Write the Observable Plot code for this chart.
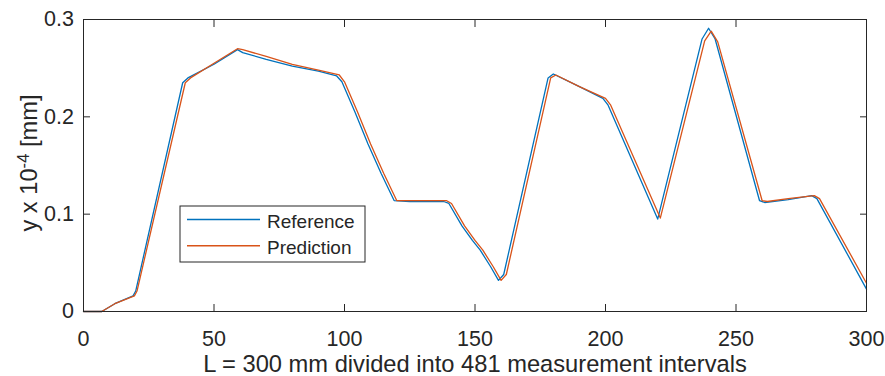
<!DOCTYPE html>
<html>
<head>
<meta charset="utf-8">
<script src="https://cdn.jsdelivr.net/npm/d3@7"></script>
<script src="https://cdn.jsdelivr.net/npm/@observablehq/plot@0.6"></script>
<style>
  html, body { margin: 0; padding: 0; background: #fff; }
  #chart { width: 885px; height: 376px; }
</style>
</head>
<body>
<div id="chart"></div>
<script>
// ---- data ----
const seriesNames = ["Reference", "Prediction"];
const seriesColors = ["#0072BD", "#D95319"];

const refX = [0, 7, 12, 19, 20, 38, 40, 50, 59, 61, 70, 80, 90, 97, 99, 104, 109, 114, 119, 125, 130, 138, 140, 145, 149, 152, 156, 159, 161, 178, 180, 190, 199, 201, 220, 237, 239.5, 242, 259, 261, 270, 279, 281, 300];
const refY = [0, 0, 0.008, 0.016, 0.021, 0.235, 0.240, 0.254, 0.269, 0.266, 0.259, 0.252, 0.247, 0.242, 0.236, 0.205, 0.172, 0.142, 0.114, 0.113, 0.113, 0.113, 0.111, 0.088, 0.073, 0.063, 0.046, 0.032, 0.038, 0.240, 0.244, 0.231, 0.219, 0.212, 0.095, 0.280, 0.291, 0.280, 0.114, 0.112, 0.115, 0.119, 0.116, 0.023];

const predX = [0, 7, 12, 19.5, 20.5, 39, 41, 50, 59, 61, 70, 80, 90, 98, 100, 105, 110, 115, 120, 125, 130, 139, 141, 146, 150, 153, 157, 160, 162, 179, 181, 190, 200, 202, 221, 238, 240.5, 243, 260, 262, 270, 280, 282, 300];
const predY = [0, 0, 0.008, 0.016, 0.021, 0.235, 0.240, 0.255, 0.270, 0.269, 0.262, 0.254, 0.248, 0.243, 0.236, 0.205, 0.172, 0.142, 0.114, 0.114, 0.114, 0.114, 0.111, 0.088, 0.073, 0.063, 0.046, 0.032, 0.038, 0.240, 0.243, 0.231, 0.219, 0.212, 0.096, 0.278, 0.288, 0.277, 0.114, 0.113, 0.116, 0.119, 0.116, 0.029];

const xTicks = [0, 50, 100, 150, 200, 250, 300];
const yTicks = [0, 0.1, 0.2, 0.3];
const yTickLabels = ["0", "0.1", "0.2", "0.3"];
const xLabel = "L = 300 mm divided into 481 measurement intervals";

// ---- build tables ----
const refData = refX.map((x, i) => ({x, y: refY[i]}));
const predData = predX.map((x, i) => ({x, y: predY[i]}));

const axisColor = "#262626";
const font = "'Liberation Sans', Arial, Helvetica, sans-serif";

const plot = Plot.plot({
  width: 885,
  height: 376,
  marginLeft: 83,
  marginRight: 19,
  marginTop: 19,
  marginBottom: 65,
  style: {fontFamily: font, fontSize: "21.5px", color: axisColor, background: "#fff", overflow: "visible"},
  x: {domain: [0, 300]},
  y: {domain: [0, 0.3]},
  marks: [
    Plot.line(refData, {x: "x", y: "y", stroke: seriesColors[0], strokeWidth: 1.3}),
    Plot.line(predData, {x: "x", y: "y", stroke: seriesColors[1], strokeWidth: 1.3}),
    Plot.frame({stroke: axisColor, strokeWidth: 1}),
    Plot.axisX(xTicks, {anchor: "bottom", tickSize: -7, tickPadding: 26, label: null, stroke: axisColor, fill: axisColor}),
    Plot.axisX(xTicks, {anchor: "top", tickSize: -7, tickFormat: () => "", label: null, stroke: axisColor}),
    Plot.axisY(yTicks, {anchor: "left", tickSize: -7, tickPadding: 16.5, label: null, tickFormat: (d, i) => yTickLabels[i], stroke: axisColor, fill: axisColor}),
    Plot.axisY(yTicks, {anchor: "right", tickSize: -7, tickFormat: () => "", label: null, stroke: axisColor}),
    Plot.text([xLabel], {frameAnchor: "bottom", lineAnchor: "bottom", dy: 60, fontSize: 23.7, fill: axisColor})
  ]
});

document.getElementById("chart").appendChild(plot);

// ---- y label with superscript ----
const svg = d3.select(plot);
const yl = svg.append("text")
  .attr("transform", "translate(37,163) rotate(-90)")
  .attr("text-anchor", "middle")
  .attr("fill", axisColor)
  .attr("font-family", font)
  .attr("font-size", 23.7);
yl.append("tspan").text("y x 10");
yl.append("tspan").attr("dy", "-0.5em").attr("font-size", "0.7em").text("-4");
yl.append("tspan").attr("dy", "0.35em").text(" [mm]");

// ---- legend ----
const lg = svg.append("g").attr("transform", "translate(180,206)");
lg.append("rect").attr("width", 185).attr("height", 56)
  .attr("fill", "#fff").attr("stroke", axisColor).attr("stroke-width", 1);
seriesNames.forEach((name, i) => {
  const cy = 13.5 + i * 26.3;
  lg.append("line").attr("x1", 7).attr("x2", 80).attr("y1", cy).attr("y2", cy)
    .attr("stroke", seriesColors[i]).attr("stroke-width", 1.5);
  lg.append("text").attr("x", 87).attr("y", cy + 8.3)
    .attr("text-anchor", "start")
    .attr("font-family", font).attr("font-size", 19).attr("fill", axisColor)
    .text(name);
});
</script>
</body>
</html>
